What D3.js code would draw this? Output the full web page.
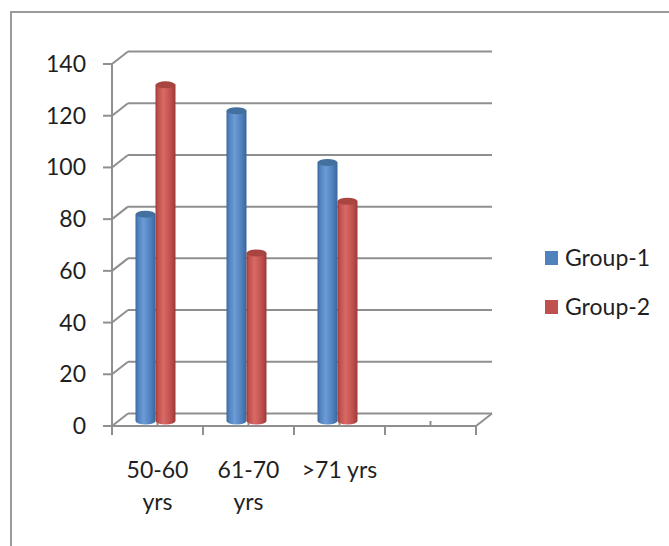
<!DOCTYPE html>
<html>
<head>
<meta charset="utf-8">
<script src="https://cdn.jsdelivr.net/npm/d3@7"></script>
<style>
  body { margin: 0; background: #fff; }
  text { font-family: Lato, "Open Sans", sans-serif; fill: #1f1f1f; }
</style>
</head>
<body>
<script>
// chart values
var categories = ["50-60 yrs", "61-70 yrs", ">71 yrs", ""];
var seriesNames = ["Group-1", "Group-2"];
var group1 = [80, 120, 100, null];
var group2 = [130, 65, 85, null];
var yTicks = [0, 20, 40, 60, 80, 100, 120, 140];

var width = 669, height = 546;
var colors = {
  "Group-1": { base: "#4f81bd", light: "#6c9bd6", dark: "#3a659c", top: "#44709f" },
  "Group-2": { base: "#c0504d", light: "#d86a66", dark: "#9c3a37", top: "#a94441" }
};

// front edge of the plot and the depth shift to the back wall
var depth = { dx: 16, dy: -12.5 };
var barShift = { dx: -2, dy: -5 };

var y = d3.scaleLinear().domain([0, 140]).range([426, 64]);
var x = d3.scaleBand().domain(d3.range(categories.length)).range([112, 476]);
var xSeries = d3.scaleBand().domain(seriesNames).range([-20, 20]);

var svg = d3.select("body")
  .append("svg")
    .attr("width", width)
    .attr("height", height);

// outer frame
svg.append("rect")
  .attr("x", 11).attr("y", 12)
  .attr("width", width).attr("height", height)
  .attr("fill", "none")
  .attr("stroke", "#9a9a9a")
  .attr("stroke-width", 2);

var grid = svg.append("g")
  .attr("stroke", "#8f8f8f")
  .attr("stroke-width", 2)
  .attr("fill", "none");

var x0 = x.range()[0], x1 = x.range()[1];

// back wall gridlines + side wall diagonals
yTicks.forEach(function(t) {
  grid.append("line")
    .attr("x1", x0 + depth.dx).attr("x2", x1 + depth.dx)
    .attr("y1", y(t) + depth.dy).attr("y2", y(t) + depth.dy);
  grid.append("line")
    .attr("x1", x0).attr("x2", x0 + depth.dx)
    .attr("y1", y(t)).attr("y2", y(t) + depth.dy);
  grid.append("line")
    .attr("x1", x0 - 9).attr("x2", x0)
    .attr("y1", y(t)).attr("y2", y(t));
});

// vertical axis
grid.append("line")
  .attr("x1", x0).attr("x2", x0)
  .attr("y1", y(140)).attr("y2", y(0));

// floor front edge and right diagonal
grid.append("line")
  .attr("x1", x0).attr("x2", x1)
  .attr("y1", y(0)).attr("y2", y(0));
grid.append("line")
  .attr("x1", x1).attr("x2", x1 + depth.dx)
  .attr("y1", y(0)).attr("y2", y(0) + depth.dy);

// category tick marks
var tickPos = categories.map(function(c, i) { return x(i); }).concat([x1]);
tickPos.forEach(function(p) {
  grid.append("line")
    .attr("x1", p).attr("x2", p)
    .attr("y1", y(0)).attr("y2", y(0) + 9);
});
categories.forEach(function(c, i) {
  var p = x(i) + x.bandwidth() / 2;
  grid.append("line")
    .attr("x1", p).attr("x2", p)
    .attr("y1", y(0) - 5).attr("y2", y(0));
});

// y labels
svg.append("g")
  .selectAll("text")
  .data(yTicks)
  .enter()
  .append("text")
    .attr("x", 86)
    .attr("y", function(d) { return y(d); })
    .attr("dy", "0.35em")
    .attr("text-anchor", "end")
    .style("font-size", "23px")
    .text(function(d) { return d; });

// x labels, wrapped to the band
var xl = svg.append("g")
  .selectAll("text")
  .data(categories)
  .enter()
  .append("text")
    .attr("x", function(d, i) { return x(i) + x.bandwidth() / 2; })
    .attr("y", 478)
    .attr("text-anchor", "middle")
    .style("font-size", "23px")
    .text(function(d) { return d; });

xl.each(function(d, i) {
  var t = d3.select(this);
  if (this.getComputedTextLength() > x.bandwidth() - 4) {
    var words = d.split(" ");
    t.text(null);
    words.forEach(function(w, k) {
      t.append("tspan")
        .attr("x", x(i) + x.bandwidth() / 2)
        .attr("dy", k ? 32 : 0)
        .text(w);
    });
  }
});

// gradients for cylinders
var defs = svg.append("defs");
seriesNames.forEach(function(s, k) {
  var g = defs.append("linearGradient")
    .attr("id", "cyl" + k)
    .attr("x1", "0").attr("x2", "1").attr("y1", "0").attr("y2", "0");
  g.append("stop").attr("offset", "0").attr("stop-color", colors[s].dark);
  g.append("stop").attr("offset", "0.12").attr("stop-color", colors[s].base);
  g.append("stop").attr("offset", "0.4").attr("stop-color", colors[s].light);
  g.append("stop").attr("offset", "0.75").attr("stop-color", colors[s].base);
  g.append("stop").attr("offset", "1").attr("stop-color", colors[s].dark);
});

// bars as cylinders
var bars = [];
categories.forEach(function(c, i) {
  [group1[i], group2[i]].forEach(function(v, k) {
    if (v != null) bars.push({ cat: i, series: seriesNames[k], k: k, value: v });
  });
});

var bw = 20, ry = 3.5;
var barG = svg.append("g");
bars.forEach(function(b) {
  var cx = x(b.cat) + x.bandwidth() / 2 + barShift.dx + xSeries(b.series) + xSeries.bandwidth() / 2;
  var yt = y(b.value) + barShift.dy;
  var yb = y(0) + barShift.dy;
  var g = barG.append("g");
  g.append("path")
    .attr("d", "M" + (cx - bw / 2) + "," + yt +
      "L" + (cx - bw / 2) + "," + yb +
      "A" + (bw / 2) + "," + ry + " 0 0 0 " + (cx + bw / 2) + "," + yb +
      "L" + (cx + bw / 2) + "," + yt + "Z")
    .attr("fill", "url(#cyl" + b.k + ")");
  g.append("ellipse")
    .attr("cx", cx).attr("cy", yt)
    .attr("rx", bw / 2).attr("ry", ry)
    .attr("fill", colors[b.series].top);
});

// legend
var legend = svg.append("g")
  .selectAll("g")
  .data(seriesNames)
  .enter()
  .append("g")
    .attr("transform", function(d, i) { return "translate(545," + (251 + i * 49) + ")"; });
legend.append("rect")
  .attr("width", 13).attr("height", 14)
  .attr("fill", function(d) { return colors[d].base; });
legend.append("text")
  .attr("x", 20).attr("y", 7)
  .attr("dy", "0.35em")
  .style("font-size", "23px")
  .text(function(d) { return d; });
</script>
</body>
</html>
